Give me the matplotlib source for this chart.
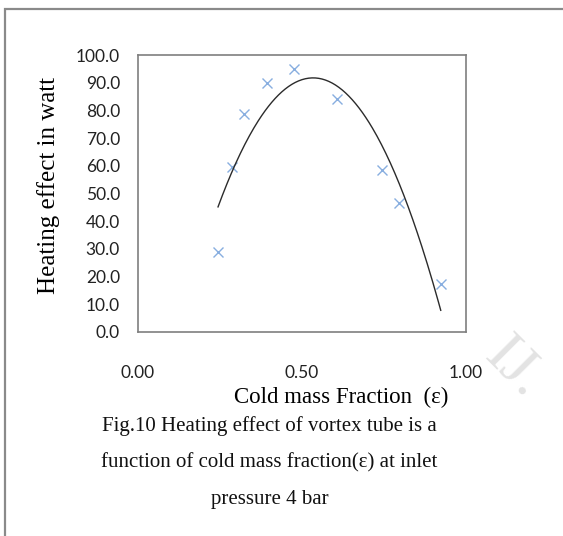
import numpy as np
import matplotlib
matplotlib.use("Agg")
from matplotlib import pyplot as plt
from matplotlib.patches import Rectangle

# cold mass fraction vs heating effect (W), inlet pressure 4 bar
eps = [0.244, 0.288, 0.322, 0.394, 0.477, 0.606, 0.744, 0.795, 0.923]
heat = [28.8, 59.7, 78.8, 89.9, 94.9, 84.2, 58.5, 46.7, 17.5]

x_ticks = [0.0, 0.5, 1.0]
x_tick_labels = ['0.00', '0.50', '1.00']
y_ticks = list(range(0, 101, 10))
y_tick_labels = [f'{v:.1f}' for v in y_ticks]

caption = ['Fig.10 Heating effect of vortex tube is a',
           'function of cold mass fraction(\u03b5) at inlet',
           'pressure 4 bar']

W, H = 563, 536
fig = plt.figure(figsize=(W / 100, H / 100), dpi=100)
fig.patch.set_facecolor('white')

# outer frame, runs off the right and bottom edges
fig.add_artist(Rectangle((5 / W, -0.2), 1.2, 1 - 9 / H + 0.2, transform=fig.transFigure,
                         fill=False, edgecolor='#8a8a8a', linewidth=1.6))

ax = fig.add_axes([138 / W, 1 - 332 / H, 328 / W, 277 / H])

ax.plot(eps, heat, linestyle='none', marker='x', markersize=7.5, markeredgewidth=1.0,
        color='#88aee0')

# second order trendline like excel does
coef = np.polyfit(eps, heat, 2)
xs = np.linspace(min(eps), max(eps), 200)
ax.plot(xs, np.polyval(coef, xs), color='#2b2b2b', linewidth=1.0)

ax.set_xlim(0, 1)
ax.set_ylim(0, 100)
ax.set_xticks(x_ticks)
ax.set_xticklabels(x_tick_labels)
ax.set_yticks(y_ticks)
ax.set_yticklabels(y_tick_labels)
ax.tick_params(length=0, labelsize=12.5, colors='#222222')
ax.tick_params(axis='x', pad=24)
ax.tick_params(axis='y', pad=13)
for lab in ax.get_xticklabels() + ax.get_yticklabels():
    lab.set_family('Lato')
for s in ax.spines.values():
    s.set_color('#7f7f7f')
    s.set_linewidth(1.2)

ax.set_xlabel('Cold mass Fraction  (\u03b5)', family='Liberation Serif', fontsize=16.5)
ax.xaxis.set_label_coords(0.62, -0.235)
ax.xaxis.label.set_va('center')
ax.set_ylabel('Heating effect in watt', family='Liberation Serif', fontsize=18)
ax.yaxis.set_label_coords(-0.274, 0.53)
ax.yaxis.label.set_va('center')

for i, line in enumerate(caption):
    fig.text(269.5 / W, 1 - (431 + 36.5 * i) / H, line, family='Liberation Serif', fontsize=15,
             ha='center', va='baseline', color='#111111')

# faint journal watermark in the corner
fig.text(515 / W, 1 - 368 / H, 'IJ.', family='Liberation Serif', fontsize=44,
         rotation=-45, color='#e3e3e3', ha='center', va='center', zorder=-1)

fig.savefig('out.png', dpi=100)
